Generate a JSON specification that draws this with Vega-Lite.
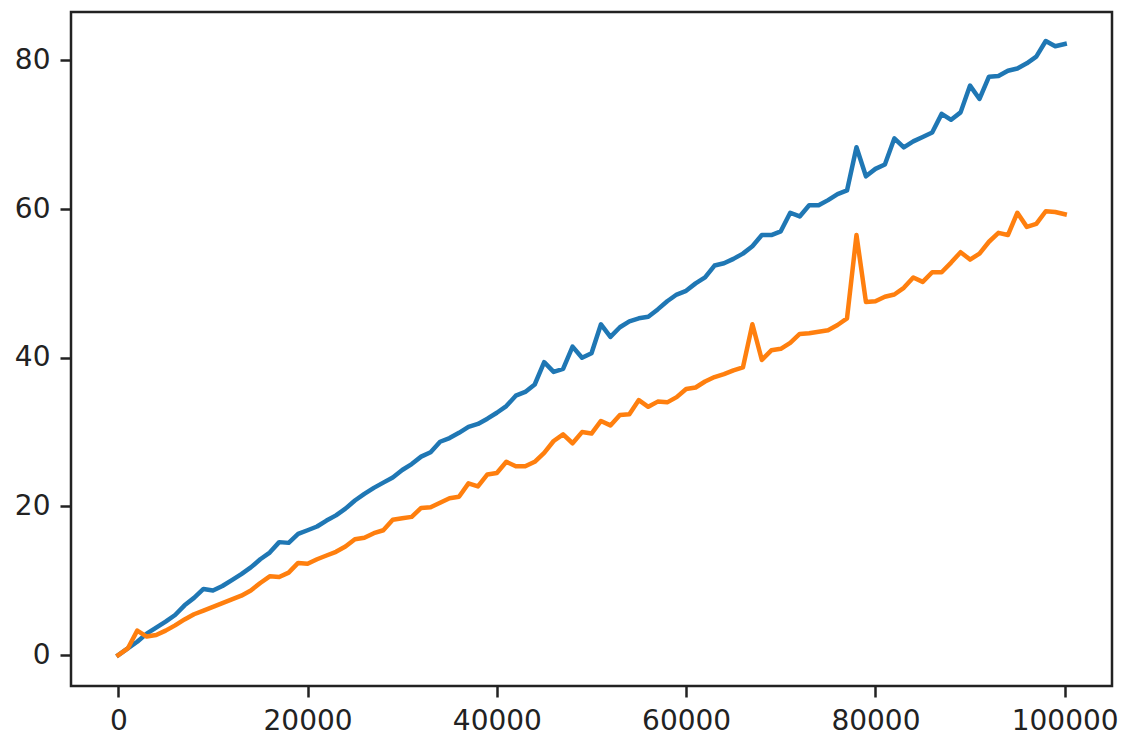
{
  "$schema": "https://vega.github.io/schema/vega-lite/v6.json",
  "width": 1041,
  "height": 674,
  "autosize": {"type": "none"},
  "padding": {"left": 71, "top": 12, "right": 10, "bottom": 50},
  "background": "white",
  "config": {
    "view": {"stroke": "#222222", "strokeWidth": 2.5},
    "axis": {
      "grid": false,
      "domain": false,
      "title": null,
      "tickSize": 11,
      "tickWidth": 2.5,
      "tickColor": "#222222",
      "labelFont": "DejaVu Sans",
      "labelFontSize": 28,
      "labelColor": "#222222",
      "labelPadding": 10
    }
  },
  "data": {
    "values": [
      {"x": 0, "blue": 0, "orange": 0},
      {"x": 1000, "blue": 0.9, "orange": 0.9},
      {"x": 2000, "blue": 1.8, "orange": 3.3},
      {"x": 3000, "blue": 2.9, "orange": 2.5},
      {"x": 4000, "blue": 3.7, "orange": 2.7},
      {"x": 5000, "blue": 4.5, "orange": 3.3},
      {"x": 6000, "blue": 5.4, "orange": 4.0},
      {"x": 7000, "blue": 6.7, "orange": 4.8},
      {"x": 8000, "blue": 7.7, "orange": 5.5},
      {"x": 9000, "blue": 8.9, "orange": 6.0},
      {"x": 10000, "blue": 8.7, "orange": 6.5},
      {"x": 11000, "blue": 9.3, "orange": 7.0},
      {"x": 12000, "blue": 10.1, "orange": 7.5},
      {"x": 13000, "blue": 10.9, "orange": 8.0},
      {"x": 14000, "blue": 11.8, "orange": 8.7},
      {"x": 15000, "blue": 12.9, "orange": 9.7},
      {"x": 16000, "blue": 13.8, "orange": 10.6},
      {"x": 17000, "blue": 15.2, "orange": 10.5},
      {"x": 18000, "blue": 15.1, "orange": 11.1},
      {"x": 19000, "blue": 16.3, "orange": 12.4},
      {"x": 20000, "blue": 16.8, "orange": 12.3},
      {"x": 21000, "blue": 17.3, "orange": 12.9},
      {"x": 22000, "blue": 18.1, "orange": 13.4},
      {"x": 23000, "blue": 18.8, "orange": 13.9},
      {"x": 24000, "blue": 19.7, "orange": 14.6},
      {"x": 25000, "blue": 20.8, "orange": 15.6},
      {"x": 26000, "blue": 21.7, "orange": 15.8},
      {"x": 27000, "blue": 22.5, "orange": 16.4},
      {"x": 28000, "blue": 23.2, "orange": 16.8},
      {"x": 29000, "blue": 23.9, "orange": 18.2},
      {"x": 30000, "blue": 24.9, "orange": 18.4},
      {"x": 31000, "blue": 25.7, "orange": 18.6},
      {"x": 32000, "blue": 26.7, "orange": 19.8},
      {"x": 33000, "blue": 27.3, "orange": 19.9},
      {"x": 34000, "blue": 28.7, "orange": 20.5},
      {"x": 35000, "blue": 29.2, "orange": 21.1},
      {"x": 36000, "blue": 29.9, "orange": 21.3},
      {"x": 37000, "blue": 30.7, "orange": 23.1},
      {"x": 38000, "blue": 31.1, "orange": 22.7},
      {"x": 39000, "blue": 31.8, "orange": 24.3},
      {"x": 40000, "blue": 32.6, "orange": 24.5},
      {"x": 41000, "blue": 33.5, "orange": 26.0},
      {"x": 42000, "blue": 34.9, "orange": 25.4},
      {"x": 43000, "blue": 35.4, "orange": 25.4},
      {"x": 44000, "blue": 36.4, "orange": 26.0},
      {"x": 45000, "blue": 39.4, "orange": 27.2},
      {"x": 46000, "blue": 38.1, "orange": 28.8},
      {"x": 47000, "blue": 38.5, "orange": 29.7},
      {"x": 48000, "blue": 41.5, "orange": 28.5},
      {"x": 49000, "blue": 40.0, "orange": 30.0},
      {"x": 50000, "blue": 40.6, "orange": 29.8},
      {"x": 51000, "blue": 44.5, "orange": 31.5},
      {"x": 52000, "blue": 42.8, "orange": 30.9},
      {"x": 53000, "blue": 44.1, "orange": 32.3},
      {"x": 54000, "blue": 44.9, "orange": 32.4},
      {"x": 55000, "blue": 45.3, "orange": 34.3},
      {"x": 56000, "blue": 45.5, "orange": 33.4},
      {"x": 57000, "blue": 46.5, "orange": 34.1},
      {"x": 58000, "blue": 47.6, "orange": 34.0},
      {"x": 59000, "blue": 48.5, "orange": 34.7},
      {"x": 60000, "blue": 49.0, "orange": 35.8},
      {"x": 61000, "blue": 50.0, "orange": 36.0},
      {"x": 62000, "blue": 50.8, "orange": 36.8},
      {"x": 63000, "blue": 52.4, "orange": 37.4},
      {"x": 64000, "blue": 52.7, "orange": 37.8},
      {"x": 65000, "blue": 53.3, "orange": 38.3},
      {"x": 66000, "blue": 54.0, "orange": 38.7},
      {"x": 67000, "blue": 55.0, "orange": 44.5},
      {"x": 68000, "blue": 56.5, "orange": 39.7},
      {"x": 69000, "blue": 56.5, "orange": 41.0},
      {"x": 70000, "blue": 57.0, "orange": 41.2},
      {"x": 71000, "blue": 59.5, "orange": 42.0},
      {"x": 72000, "blue": 59.0, "orange": 43.2},
      {"x": 73000, "blue": 60.5, "orange": 43.3},
      {"x": 74000, "blue": 60.5, "orange": 43.5},
      {"x": 75000, "blue": 61.2, "orange": 43.7},
      {"x": 76000, "blue": 62.0, "orange": 44.4},
      {"x": 77000, "blue": 62.5, "orange": 45.3},
      {"x": 78000, "blue": 68.3, "orange": 56.5},
      {"x": 79000, "blue": 64.4, "orange": 47.5},
      {"x": 80000, "blue": 65.4, "orange": 47.6},
      {"x": 81000, "blue": 66.0, "orange": 48.2},
      {"x": 82000, "blue": 69.5, "orange": 48.5},
      {"x": 83000, "blue": 68.3, "orange": 49.4},
      {"x": 84000, "blue": 69.1, "orange": 50.8},
      {"x": 85000, "blue": 69.7, "orange": 50.2},
      {"x": 86000, "blue": 70.3, "orange": 51.5},
      {"x": 87000, "blue": 72.8, "orange": 51.5},
      {"x": 88000, "blue": 72.0, "orange": 52.8},
      {"x": 89000, "blue": 73.0, "orange": 54.2},
      {"x": 90000, "blue": 76.6, "orange": 53.2},
      {"x": 91000, "blue": 74.8, "orange": 54.0},
      {"x": 92000, "blue": 77.8, "orange": 55.6},
      {"x": 93000, "blue": 77.9, "orange": 56.8},
      {"x": 94000, "blue": 78.6, "orange": 56.5},
      {"x": 95000, "blue": 78.9, "orange": 59.5},
      {"x": 96000, "blue": 79.6, "orange": 57.6},
      {"x": 97000, "blue": 80.5, "orange": 58.0},
      {"x": 98000, "blue": 82.6, "orange": 59.7},
      {"x": 99000, "blue": 81.9, "orange": 59.6},
      {"x": 100000, "blue": 82.2, "orange": 59.3}
    ]
  },
  "transform": [{"fold": ["blue", "orange"], "as": ["series", "value"]}],
  "mark": {"type": "line", "strokeWidth": 4.5, "strokeJoin": "round", "strokeCap": "square"},
  "encoding": {
    "x": {
      "field": "x",
      "type": "quantitative",
      "scale": {"domain": [-5000, 105000], "nice": false, "zero": false},
      "axis": {"values": [0, 20000, 40000, 60000, 80000, 100000], "format": "d"}
    },
    "y": {
      "field": "value",
      "type": "quantitative",
      "scale": {"domain": [-4.15, 86.5], "nice": false, "zero": false},
      "axis": {"values": [0, 20, 40, 60, 80], "format": "d"}
    },
    "color": {
      "field": "series",
      "type": "nominal",
      "scale": {"domain": ["blue", "orange"], "range": ["#1f77b4", "#ff7f0e"]},
      "legend": null
    }
  }
}
